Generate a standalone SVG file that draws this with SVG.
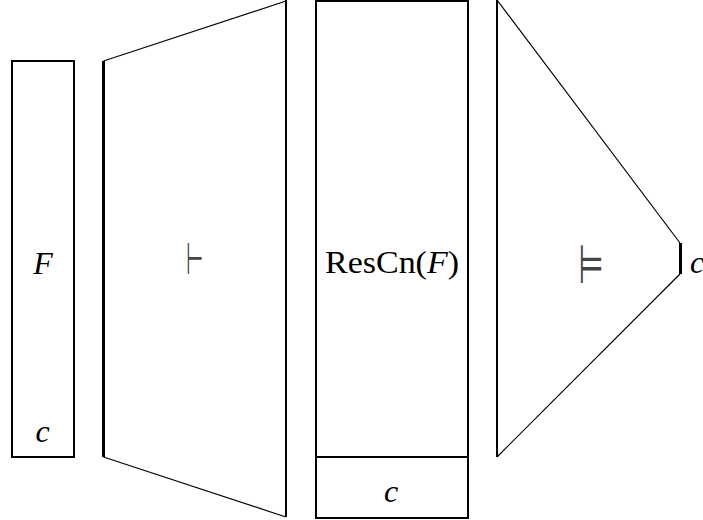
<svg xmlns="http://www.w3.org/2000/svg" width="703" height="520" viewBox="0 0 703 520">
<style>
.box{fill:none;stroke:#000;stroke-width:2}
.thin{fill:none;stroke:#000;stroke-width:1.2}
.thick{fill:none;stroke:#000;stroke-width:3}
.t{font-family:"Liberation Serif",serif;font-size:32px;fill:#000}
.i{font-style:italic}
.sym{font-family:"DejaVu Sans",sans-serif;fill:#444}
</style>
<rect width="703" height="520" fill="#fff"/>
<g id="formula">
<rect class="box" x="12" y="61" width="62" height="396"/>
<text class="t i" x="43" y="274" text-anchor="middle">F</text>
<text class="t i" x="42.5" y="442" text-anchor="middle">c</text>
</g>
<g id="derivation">
<line class="thick" x1="103.5" y1="61" x2="103.5" y2="457"/>
<line class="box" x1="286" y1="0" x2="286" y2="517"/>
<line class="thin" x1="103.5" y1="61" x2="286" y2="1"/>
<line class="thin" x1="103.5" y1="457" x2="286" y2="517"/>
<text class="sym" transform="translate(194.5,274) scale(0.58,1.3)" font-size="34" text-anchor="middle">⊢</text>
</g>
<g id="rescn">
<rect class="box" x="316" y="1" width="152" height="517"/>
<line class="box" x1="316" y1="457" x2="468" y2="457"/>
<text class="t" x="325" y="273" textLength="134" lengthAdjust="spacingAndGlyphs">ResCn(<tspan class="i">F</tspan>)</text>
<text class="t i" x="391" y="502" text-anchor="middle">c</text>
</g>
<g id="semantic">
<line class="box" x1="497" y1="0" x2="497" y2="457"/>
<line class="thin" x1="497" y1="0" x2="680" y2="243"/>
<line class="thin" x1="680" y1="274" x2="497" y2="457"/>
<line class="thick" x1="680.5" y1="243" x2="680.5" y2="274"/>
<text class="sym" transform="translate(591,283) scale(0.72,1.35)" font-size="40" text-anchor="middle">⊨</text>
<text class="t i" x="697" y="273" text-anchor="middle">c</text>
</g>
<g id="connectors"></g>
</svg>
